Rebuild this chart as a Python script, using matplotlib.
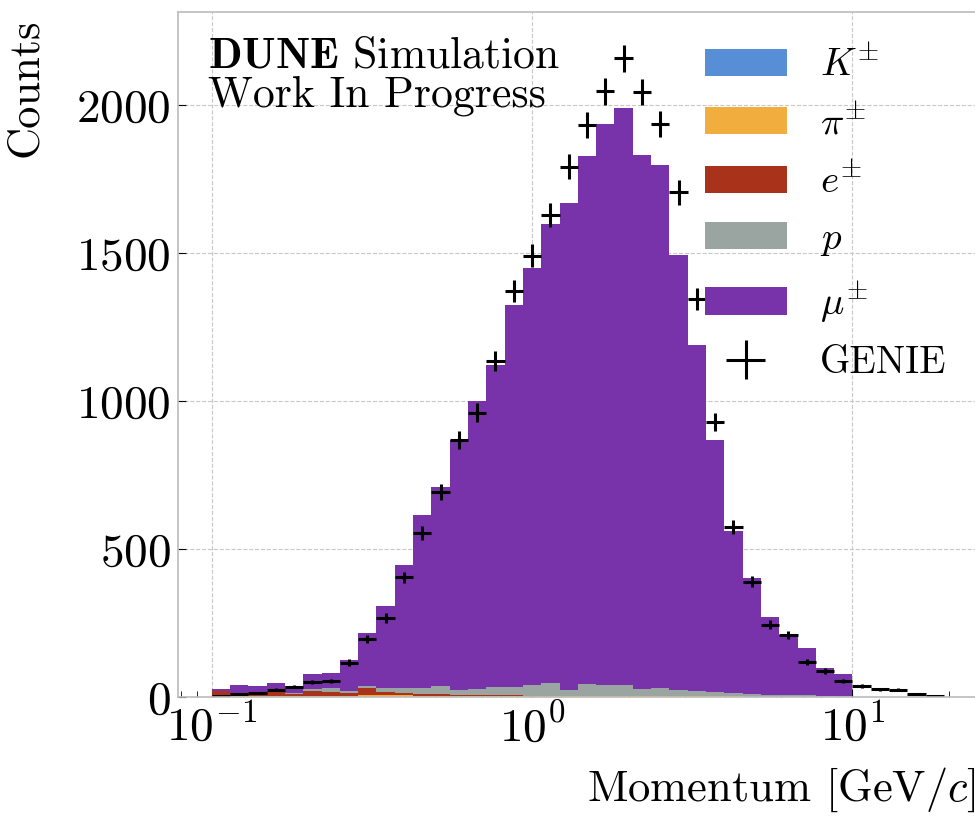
import numpy as np
import matplotlib
matplotlib.use("Agg")
import matplotlib.pyplot as plt

plt.rcParams["font.family"] = "serif"
plt.rcParams["font.serif"] = ["cmr10"]
plt.rcParams["mathtext.fontset"] = "cm"
plt.rcParams["axes.formatter.use_mathtext"] = True

# 40 log bins, 17.5 per decade, starting at 0.1 GeV/c
edges = np.logspace(-1, -1 + 40 / 17.5, 41)
centers = np.sqrt(edges[:-1] * edges[1:])

# stacked simulation, counts per bin (bins 35-39 empty)
kaon = [0, 0, 0, 0, 0, 0, 0, 0, 1, 1, 1, 1, 1, 1, 1, 1, 1, 1, 1, 1,
        1, 1, 1, 1, 1, 1, 1, 0, 0, 0, 0, 0, 0, 0, 0, 0, 0, 0, 0, 0]
pion = [2, 2, 2, 2, 2, 2, 2, 4, 5, 6, 5, 4, 4, 4, 4, 4, 4, 3, 3, 3,
        3, 3, 3, 3, 3, 2, 2, 2, 2, 1, 1, 1, 1, 0, 0, 0, 0, 0, 0, 0]
elec = [18, 10, 10, 17, 9, 17, 16, 11, 23, 9, 7, 4, 4, 2, 2, 1, 1, 1, 1, 1,
        1, 1, 1, 1, 1, 1, 0, 0, 0, 0, 0, 0, 0, 0, 0, 0, 0, 0, 0, 0]
prot = [1, 1, 1, 3, 3, 9, 11, 4, 8, 15, 18, 20, 27, 17, 20, 27, 28, 37, 41, 19,
        38, 36, 34, 21, 25, 21, 16, 14, 12, 9, 7, 6, 5, 4, 3, 0, 0, 0, 0, 0]
muon = [6, 28, 23, 24, 24, 49, 53, 106, 180, 276, 416, 585, 674, 844, 973, 1090, 1292, 1408, 1554, 1644,
        1786, 1897, 1953, 1805, 1767, 1470, 1170, 852, 546, 391, 263, 202, 158, 93, 75, 0, 0, 0, 0, 0]
genie = [5, 10, 12, 24, 35, 50, 54, 116, 195, 267, 404, 553, 692, 868, 961, 1136, 1373, 1491, 1628, 1792,
         1932, 2047, 2158, 2045, 1935, 1705, 1344, 928, 575, 390, 245, 209, 119, 88, 54, 37, 26, 24, 10, 4]

labels = [r"$K^{\pm}$", r"$\pi^{\pm}$", r"$e^{\pm}$", r"$p$", r"$\mu^{\pm}$"]
colors = ["#578ed6", "#f2ad3f", "#a9321b", "#9aa5a2", "#7833ab"]

fig = plt.figure(figsize=(9.75, 8.19), dpi=100)
ax = fig.add_axes([178 / 975, 122 / 819, 802 / 975, 685 / 819])

_, _, patches = ax.hist([centers] * 5, bins=edges, weights=[kaon, pion, elec, prot, muon],
                        stacked=True, histtype="stepfilled", color=colors)

genie = np.array(genie, dtype=float)
eb = ax.errorbar(centers, genie, xerr=[centers - edges[:-1], edges[1:] - centers],
                 yerr=np.sqrt(genie), fmt="none", ecolor="black", elinewidth=2.2)

ax.set_xscale("log")
ax.set_xlim(10 ** -1.105, 10 ** 1.398)
ax.set_ylim(0, 2315)
ax.set_yticks([0, 500, 1000, 1500, 2000])

ax.grid(True, which="major", linestyle="--", color="#c8c8c8", linewidth=0.8)
ax.set_axisbelow(True)
for s in ax.spines.values():
    s.set_color("#bbbbbb")
    s.set_linewidth(1.2)

ax.tick_params(axis="both", which="major", direction="in", length=6,
               labelsize=34, pad=5)
ax.tick_params(axis="x", which="minor", direction="in", length=4)

ax.set_xlabel(r"Momentum [GeV/$c$]", fontsize=32, ha="right")
ax.xaxis.set_label_coords(0.995, -0.1)
ax.set_ylabel("Counts", fontsize=32, ha="right")
ax.yaxis.set_label_coords(-0.165, 0.99)

fig.text(208 / 975, 1 - 36 / 819, r"$\mathbf{DUNE}$ Simulation" + "\nWork In Progress",
         fontsize=31.5, va="top", ha="left", linespacing=0.98)

handles = [p[0] for p in patches] + [eb]
ax.legend(handles, labels + ["GENIE"], loc="upper left",
          bbox_to_anchor=(705 / 975, 1 - 46 / 819),
          bbox_transform=fig.transFigure, frameon=False, fontsize=28,
          handlelength=2.1, handleheight=0.7, labelspacing=0.53,
          handletextpad=0.85, borderaxespad=0, borderpad=0)

fig.savefig("out.png", dpi=100)
